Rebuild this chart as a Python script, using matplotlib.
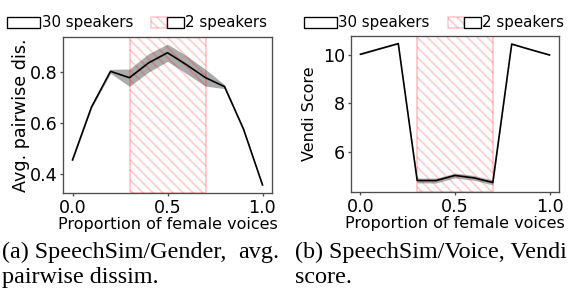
import matplotlib
matplotlib.use("Agg")
import matplotlib.pyplot as plt
from matplotlib.patches import Patch
from matplotlib.legend_handler import HandlerTuple

# proportion of female voices
props = [0.0, 0.1, 0.2, 0.3, 0.4, 0.5, 0.6, 0.7, 0.8, 0.9, 1.0]

# (a) avg. pairwise dissimilarity
gender_mean = [0.455, 0.663, 0.803, 0.778, 0.836, 0.876, 0.829, 0.778, 0.743, 0.576, 0.357]
gender_std = [0.004, 0.005, 0.008, 0.034, 0.036, 0.034, 0.035, 0.033, 0.008, 0.005, 0.004]

# (b) Vendi score
voice_mean = [10.03, 10.25, 10.47, 4.82, 4.82, 5.03, 4.93, 4.74, 10.45, 10.22, 10.0]
voice_std = [0.02, 0.02, 0.02, 0.1, 0.1, 0.1, 0.1, 0.1, 0.02, 0.02, 0.02]

two_spk_range = [0.3, 0.7]
legend_labels = ["30 speakers", "2 speakers"]

DPI = 120
W, H = 569, 300
fig = plt.figure(figsize=(W / DPI, H / DPI), dpi=DPI)
axa = fig.add_axes([63 / W, 1 - 193 / H, 209 / W, 156 / H])
axb = fig.add_axes([351 / W, 1 - 192 / H, 208 / W, 156 / H])

hatch = "\\\\\\\\"
panels = [
    (axa, gender_mean, gender_std, "Avg. pairwise dis.", 10.5, -0.16, 7),
    (axb, voice_mean, voice_std, "Vendi Score", 9.6, -0.165, 304),
]
for ax, mean, std, ylab, ylab_size, ylab_x, leg_x in panels:
    lo = [m - s for m, s in zip(mean, std)]
    hi = [m + s for m, s in zip(mean, std)]
    ax.fill_between(props, lo, hi, color="black", alpha=0.33, linewidth=0)
    ax.plot(props, mean, color="black", linewidth=1.0)
    ax.axvspan(two_spk_range[0], two_spk_range[1], facecolor="none",
               edgecolor="red", alpha=0.2, hatch=hatch, linewidth=1.2)
    ax.set_xticks([0.0, 0.5, 1.0])
    ax.tick_params(labelsize=10.5, color="0.3", length=2, pad=1.5)
    for sp in ax.spines.values():
        sp.set_color("0.3")
    ax.set_xlabel("Proportion of female voices", fontsize=9.6, labelpad=0)
    ax.set_ylabel(ylab, fontsize=ylab_size)
    ax.yaxis.set_label_coords(ylab_x, 0.5)

    h1 = Patch(facecolor="white", edgecolor="black", linewidth=0.8)
    h2 = (Patch(facecolor="white", edgecolor="red", alpha=0.2, hatch=hatch),
          Patch(facecolor="none", edgecolor="black", linewidth=0.8))
    fig.legend([h1, h2], legend_labels, ncol=2, frameon=False, fontsize=9,
               loc="center left", bbox_to_anchor=(leg_x / W, 1 - 23 / H),
               borderpad=0, borderaxespad=0, handlelength=2.2,
               handletextpad=0.1, columnspacing=1.2,
               handler_map={tuple: HandlerTuple(ndivide=None, pad=0)})

axa.set_yticks([0.4, 0.6, 0.8])
axb.set_yticks([6, 8, 10])

# captions below the panels
serif = "Liberation Serif"
cap = dict(fontsize=14.5, family=serif, va="baseline")
fig.text(2 / W, 1 - 258 / H, "(a) SpeechSim/Gender,", **cap)
fig.text(279 / W, 1 - 258 / H, "avg.", ha="right", **cap)
fig.text(2 / W, 1 - 283 / H, "pairwise dissim.", **cap)
fig.text(295 / W, 1 - 258 / H, "(b) SpeechSim/Voice, Vendi", **cap)
fig.text(295 / W, 1 - 283 / H, "score.", **cap)

fig.savefig("out.png", dpi=DPI)
